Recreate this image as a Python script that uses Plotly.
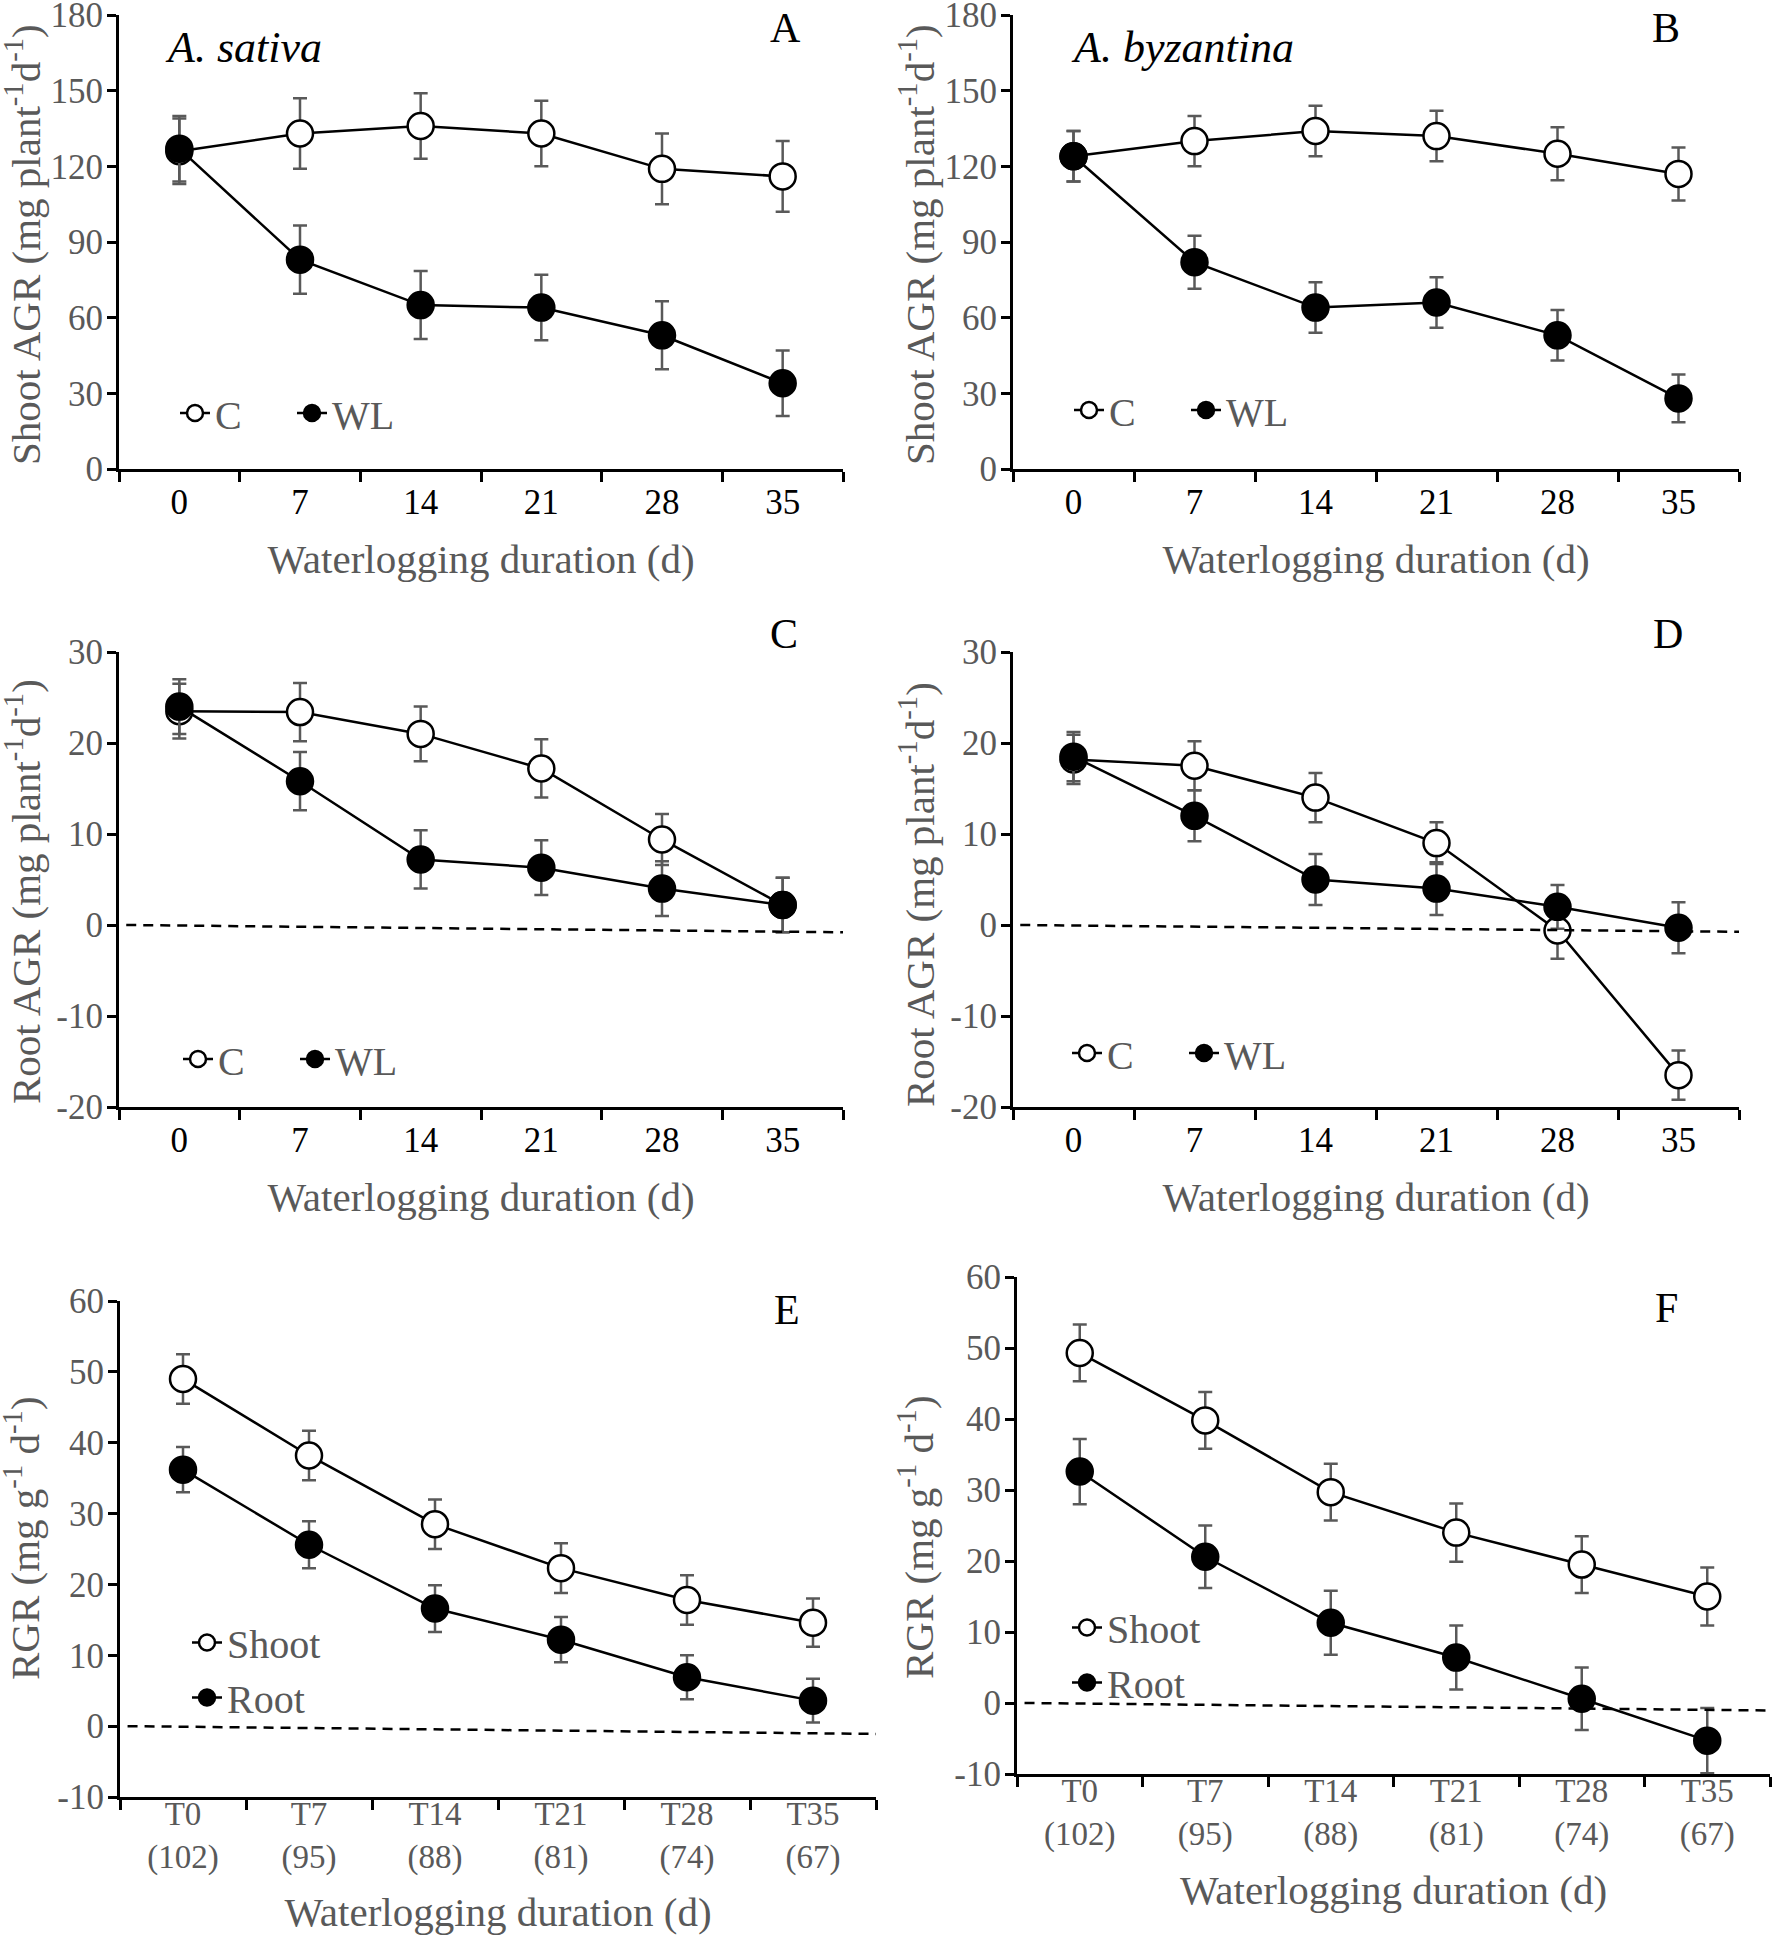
import plotly.graph_objects as go

# x categories
days = ["0", "7", "14", "21", "28", "35"]
rgr_days = ["T0<br>(102)", "T7<br>(95)", "T14<br>(88)", "T21<br>(81)", "T28<br>(74)", "T35<br>(67)"]

# A: A. sativa shoot AGR
sat_shoot_c = [126, 133, 136, 133, 119, 116]
sat_shoot_c_err = [13, 14, 13, 13, 14, 14]
sat_shoot_wl = [127, 83, 65, 64, 53, 34]
sat_shoot_wl_err = [13, 13.5, 13.5, 13, 13.5, 13]

# B: A. byzantina shoot AGR
byz_shoot_c = [124, 130, 134, 132, 125, 117]
byz_shoot_c_err = [10, 10, 10, 10, 10.5, 10.5]
byz_shoot_wl = [124, 82, 64, 66, 53, 28]
byz_shoot_wl_err = [10, 10.5, 10, 10, 10, 9.5]

# C: A. sativa root AGR
sat_root_c = [23.5, 23.4, 21, 17.2, 9.4, 2.2]
sat_root_c_err = [3, 3.2, 3, 3.2, 2.8, 3]
sat_root_wl = [24, 15.8, 7.2, 6.3, 4, 2.2]
sat_root_wl_err = [3, 3.2, 3.2, 3, 3, 3]

# D: A. byzantina root AGR
byz_root_c = [18.2, 17.5, 14, 9, -0.6, -16.5]
byz_root_c_err = [2.7, 2.7, 2.7, 2.3, 3.1, 2.7]
byz_root_wl = [18.5, 12, 5, 4, 2, -0.3]
byz_root_wl_err = [2.7, 2.8, 2.8, 2.9, 2.4, 2.8]

# E: A. sativa RGR
sat_rgr_shoot = [49, 38.2, 28.5, 22.3, 17.8, 14.6]
sat_rgr_shoot_err = [3.5, 3.5, 3.5, 3.5, 3.5, 3.4]
sat_rgr_root = [36.2, 25.6, 16.6, 12.2, 6.9, 3.6]
sat_rgr_root_err = [3.2, 3.3, 3.3, 3.2, 3.1, 3.1]

# F: A. byzantina RGR
byz_rgr_shoot = [49.3, 39.8, 29.7, 24, 19.5, 15]
byz_rgr_shoot_err = [4, 4, 4, 4.1, 4, 4.1]
byz_rgr_root = [32.6, 20.6, 11.3, 6.4, 0.6, -5.3]
byz_rgr_root_err = [4.6, 4.4, 4.5, 4.5, 4.4, 4.6]

# dashed reference line ends (left, right) for C-F
ref_lines = {"C": [0, -0.8], "D": [0, -0.75], "E": [0, -1.1], "F": [0, -1.05]}

W, H = 1772, 1935
FONT = "Times New Roman, Liberation Serif, serif"
GREY = "#595959"


def px_x(p):
    return p / W


def px_y(p):
    return 1 - p / H


# panel boxes in pixels: left, right, top, bottom
boxes = {
    "A": (119, 843, 15, 469),
    "B": (1013, 1739, 15, 469),
    "C": (119, 843, 652, 1107),
    "D": (1013, 1739, 652, 1107),
    "E": (120, 876, 1301, 1797),
    "F": (1017, 1770, 1277, 1774),
}

panels = [
    ("A", days, sat_shoot_c, sat_shoot_c_err, sat_shoot_wl, sat_shoot_wl_err, ["C", "WL"]),
    ("B", days, byz_shoot_c, byz_shoot_c_err, byz_shoot_wl, byz_shoot_wl_err, ["C", "WL"]),
    ("C", days, sat_root_c, sat_root_c_err, sat_root_wl, sat_root_wl_err, ["C", "WL"]),
    ("D", days, byz_root_c, byz_root_c_err, byz_root_wl, byz_root_wl_err, ["C", "WL"]),
    ("E", rgr_days, sat_rgr_shoot, sat_rgr_shoot_err, sat_rgr_root, sat_rgr_root_err, ["Shoot", "Root"]),
    ("F", rgr_days, byz_rgr_shoot, byz_rgr_shoot_err, byz_rgr_root, byz_rgr_root_err, ["Shoot", "Root"]),
]

y_ranges = {"A": (0, 180, 30), "B": (0, 180, 30), "C": (-20, 30, 10), "D": (-20, 30, 10),
            "E": (-10, 60, 10), "F": (-10, 60, 10)}
y_titles = {
    "A": "Shoot AGR (mg plant<sup>-1</sup>d<sup>-1</sup>)",
    "B": "Shoot AGR (mg plant<sup>-1</sup>d<sup>-1</sup>)",
    "C": "Root AGR (mg plant<sup>-1</sup>d<sup>-1</sup>)",
    "D": "Root AGR (mg plant<sup>-1</sup>d<sup>-1</sup>)",
    "E": "RGR (mg g<sup>-1</sup> d<sup>-1</sup>)",
    "F": "RGR (mg g<sup>-1</sup> d<sup>-1</sup>)",
}
# y title centres in pixels
y_title_pos = {"A": (23, 245), "B": (917, 245), "C": (23, 892), "D": (917, 895),
               "E": (22, 1538), "F": (916, 1537)}
# legend anchor (left px, center y px), orientation
legend_pos = {"A": (175, 413, "h"), "B": (1069, 410, "h"), "C": (178, 1059, "h"),
              "D": (1067, 1053, "h"), "E": (187, 1670, "v"), "F": (1067, 1655, "v")}
letter_pos = {"A": (785, 28), "B": (1666, 28), "C": (784, 634), "D": (1668, 634),
              "E": (787, 1310), "F": (1666, 1308)}

fig = go.Figure()
layout = dict(width=W, height=H, margin=dict(l=0, r=0, t=0, b=0, autoexpand=False),
              paper_bgcolor="white", plot_bgcolor="white",
              font=dict(family=FONT, size=35, color=GREY), shapes=[], annotations=[])

for i, (name, cats, c_vals, c_err, w_vals, w_err, names) in enumerate(panels):
    n = i + 1
    xa = "x" if n == 1 else f"x{n}"
    ya = "y" if n == 1 else f"y{n}"
    lg = "legend" if n == 1 else f"legend{n}"
    for vals, err, fill, nm in [(c_vals, c_err, "white", names[0]), (w_vals, w_err, "black", names[1])]:
        fig.add_trace(go.Scatter(
            x=cats, y=vals, name=nm, mode="lines+markers", xaxis=xa, yaxis=ya, legend=lg,
            line=dict(color="black", width=2.5),
            marker=dict(size=26, color=fill, line=dict(color="black", width=2.5)),
            error_y=dict(type="data", array=err, visible=True, color=GREY, thickness=2.5, width=7),
            cliponaxis=False,
        ))
    l, r, t, b = boxes[name]
    lo, hi, dt = y_ranges[name]
    ticks = list(range(lo, hi + 1, dt))
    rgr = name in ("E", "F")
    layout["xaxis" if n == 1 else f"xaxis{n}"] = dict(
        domain=[px_x(l), px_x(r)], anchor=ya, type="category", range=[-0.5, 5.5],
        automargin=False, ticklabeloverflow="allow", ticklabelstandoff=-15 if rgr else 0,
        showline=True, linecolor="black", linewidth=3, ticks="outside", tickson="boundaries",
        ticklen=10, tickwidth=2.5, tickcolor="black", showgrid=False, zeroline=False,
        tickfont=dict(family=FONT, size=33 if rgr else 35, color=GREY if rgr else "black"),
        title=dict(text="Waterlogging duration (d)", font=dict(family=FONT, size=41, color=GREY),
                   standoff=24),
    )
    layout["yaxis" if n == 1 else f"yaxis{n}"] = dict(
        domain=[px_y(b), px_y(t)], anchor=xa, range=[lo, hi], automargin=False,
        ticklabeloverflow="allow",
        tickvals=ticks, ticktext=[str(v) for v in ticks],
        showline=True, linecolor="black", linewidth=3, ticks="outside",
        ticklen=9, tickwidth=2.5, tickcolor="black", showgrid=False, zeroline=False,
        ticklabelstandoff=-3,
        tickfont=dict(family=FONT, size=35, color=GREY),
    )
    tx, ty = y_title_pos[name]
    layout["annotations"].append(dict(text=y_titles[name], x=px_x(tx), y=px_y(ty), xref="paper",
                                      yref="paper", showarrow=False, textangle=-90,
                                      xanchor="center", yanchor="middle",
                                      font=dict(family=FONT, size=41, color=GREY)))
    lx, ly, ori = legend_pos[name]
    leg = dict(x=px_x(lx), y=px_y(ly), xanchor="left", yanchor="middle", orientation=ori,
               bgcolor="rgba(0,0,0,0)", font=dict(family=FONT, size=40, color=GREY),
               itemsizing="trace", tracegroupgap=0)
    if ori == "h":
        leg.update(entrywidth=72, entrywidthmode="pixels")
    layout[lg] = leg
    if name in ref_lines:
        y0, y1 = ref_lines[name]
        layout["shapes"].append(dict(type="line", xref=f"{xa} domain", yref=ya,
                                     x0=0.01, x1=1, y0=y0, y1=y1,
                                     line=dict(color="black", width=2.5, dash="10px,7px")))
    px_, py_ = letter_pos[name]
    layout["annotations"].append(dict(text=name, x=px_x(px_), y=px_y(py_), xref="paper", yref="paper",
                                      showarrow=False, xanchor="center", yanchor="middle",
                                      font=dict(family=FONT, size=42, color="black")))

layout["annotations"].append(dict(text="<i>A. sativa</i>", x=px_x(163), y=px_y(47), xref="paper",
                                  yref="paper", showarrow=False, xanchor="left", yanchor="middle",
                                  font=dict(family=FONT, size=44, color="black")))
layout["annotations"].append(dict(text="<i>A. byzantina</i>", x=px_x(1069), y=px_y(47), xref="paper",
                                  yref="paper", showarrow=False, xanchor="left", yanchor="middle",
                                  font=dict(family=FONT, size=44, color="black")))

fig.update_layout(**layout)
# page body has a default 8px margin; drop it so the figure fills the window exactly
fig.write_html("out.html", config={"displayModeBar": False},
               post_script="document.body.style.margin='0';")
